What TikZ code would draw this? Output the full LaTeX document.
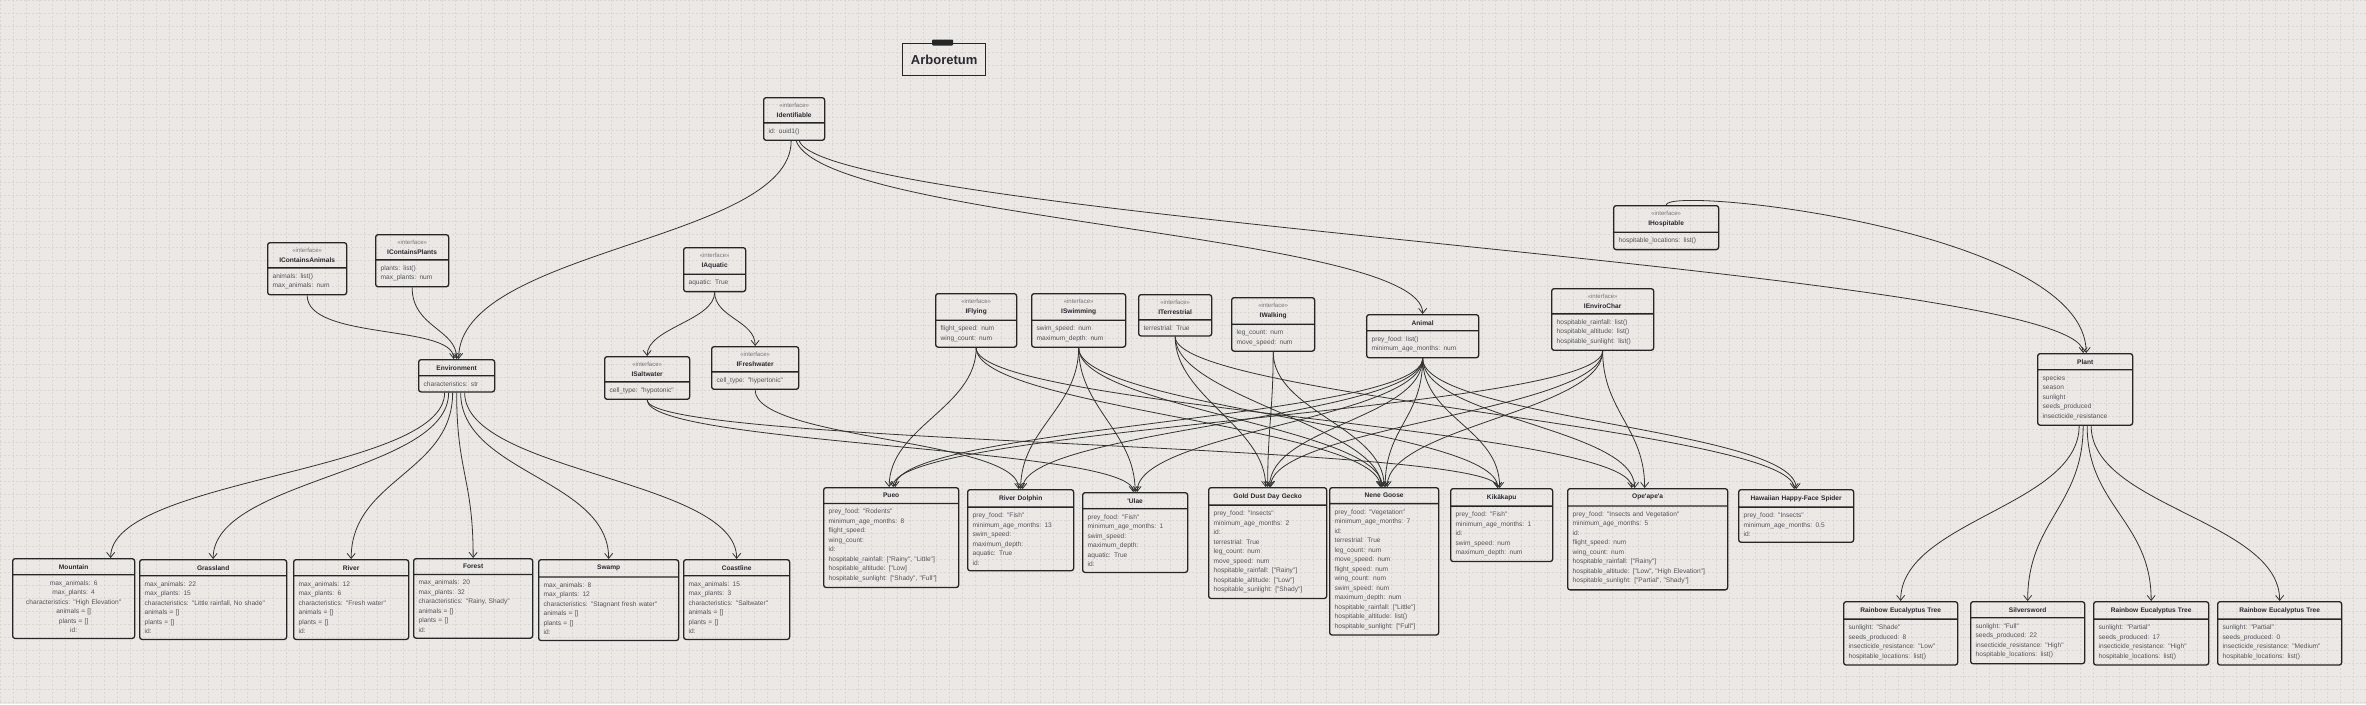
\documentclass[tikz,border=0pt]{standalone}
\usepackage{fontspec}
\newfontfamily\umlfont{Liberation Sans}
\usepackage{tikz}
\usetikzlibrary{arrows.meta,shapes.multipart}
\definecolor{paper}{HTML}{EBE8E5}
\definecolor{gridline}{HTML}{DAD6D2}
\definecolor{boxline}{HTML}{262626}
\definecolor{attrtext}{HTML}{55535A}
\definecolor{nametext}{HTML}{2A2830}
\definecolor{wire}{HTML}{333333}
\newcommand{\stype}{{\fontsize{6}{8.5}\selectfont\color{attrtext!80}«interface»}\\}
\newcommand{\cname}[1]{\textcolor{nametext}{\textbf{#1}}}
\newcommand{\lft}[1]{\raggedright\parfillskip=0pt plus 1fil\relax #1\par}

\begin{document}
\begin{tikzpicture}[x=1pt,y=-1pt,>={Straight Barb[length=5pt,width=8pt]},
    umlbox/.style={rectangle split,rectangle split parts=2,draw=boxline,line width=1.3pt,rounded corners=2.5pt,anchor=north west,inner xsep=5pt,inner ysep=5pt,align=center,text=attrtext,font=\umlfont\fontsize{6.6}{9.5}\selectfont},
    link/.style={->,draw=wire,line width=0.8pt}]

  \useasboundingbox (0,0) rectangle (2366,704);
  \fill[paper] (0,0) rectangle (2366,704);
  \foreach \gx in {0,13,...,2366} {
    \draw[gridline,line width=0.4pt,dash pattern=on 2pt off 2pt] (\gx,0) -- (\gx,704);
  }
  \foreach \gy in {0,13,...,704} {
    \draw[gridline,line width=0.4pt,dash pattern=on 2pt off 2pt] (0,\gy) -- (2366,\gy);
  }

  % title
  \node[draw=boxline,line width=1.4pt,minimum width=83,minimum height=32,anchor=north west,font=\umlfont\bfseries\fontsize{13}{15}\selectfont,text=nametext] (title) at (902,43) {Arboretum};
  \node[fill=boxline,minimum width=21,minimum height=6,inner sep=0pt,rounded corners=1pt] (tape) at (942.5,42.5) {};

  % interfaces and base classes
  \node[umlbox,text width=51,minimum height=50] (identifiable) at (763,97) {\stype\cname{Identifiable}\nodepart{two}\lft{id: uuid1()}};
  \node[umlbox,text width=69,minimum height=60] (cont-animals) at (267,242) {\stype\cname{IContainsAnimals}\nodepart{two}\lft{animals: list()\\max\_animals: num}};
  \node[umlbox,text width=63,minimum height=59] (cont-plants) at (375,234) {\stype\cname{IContainsPlants}\nodepart{two}\lft{plants: list()\\max\_plants: num}};
  \node[umlbox,text width=52,minimum height=51] (aquatic) at (683,247) {\stype\cname{IAquatic}\nodepart{two}\lft{aquatic: True}};
  \node[umlbox,text width=66,minimum height=42] (environment) at (418,359) {\cname{Environment}\nodepart{two}\lft{characteristics: str}};
  \node[umlbox,text width=75,minimum height=50] (saltwater) at (604,356) {\stype\cname{ISaltwater}\nodepart{two}\lft{cell\_type: "hypotonic"}};
  \node[umlbox,text width=77,minimum height=51] (freshwater) at (711,346) {\stype\cname{IFreshwater}\nodepart{two}\lft{cell\_type: "hypertonic"}};
  \node[umlbox,text width=71,minimum height=60] (flying) at (935,293) {\stype\cname{IFlying}\nodepart{two}\lft{flight\_speed: num\\wing\_count: num}};
  \node[umlbox,text width=84,minimum height=60] (swimming) at (1031,293) {\stype\cname{ISwimming}\nodepart{two}\lft{swim\_speed: num\\maximum\_depth: num}};
  \node[umlbox,text width=63,minimum height=51] (terrestrial) at (1138,294) {\stype\cname{ITerrestrial}\nodepart{two}\lft{terrestrial: True}};
  \node[umlbox,text width=73,minimum height=60] (walking) at (1231,297) {\stype\cname{IWalking}\nodepart{two}\lft{leg\_count: num\\move\_speed: num}};
  \node[umlbox,text width=102,minimum height=50] (animal) at (1366,314) {\cname{Animal}\nodepart{two}\lft{prey\_food: list()\\minimum\_age\_months: num}};
  \node[umlbox,text width=92,minimum height=70] (envirochar) at (1551,288) {\stype\cname{IEnviroChar}\nodepart{two}\lft{hospitable\_rainfall: list()\\hospitable\_altitude: list()\\hospitable\_sunlight: list()}};
  \node[umlbox,text width=95,minimum height=51] (hospitable) at (1613,205) {\stype\cname{IHospitable}\nodepart{two}\lft{hospitable\_locations: list()}};
  \node[umlbox,text width=85,minimum height=80] (plant) at (2037,353) {\cname{Plant}\nodepart{two}\lft{species\\season\\sunlight\\seeds\_produced\\insecticide\_resistance}};

  % environments
  \node[umlbox,text width=112,minimum height=90] (mountain) at (12,558) {\cname{Mountain}\nodepart{two}\centering max\_animals: 6\\max\_plants: 4\\characteristics: "High Elevation"\\animals = []\\plants = []\\id:};
  \node[umlbox,text width=137,minimum height=90] (grassland) at (139,559) {\cname{Grassland}\nodepart{two}\lft{max\_animals: 22\\max\_plants: 15\\characteristics: "Little rainfall, No shade"\\animals = []\\plants = []\\id:}};
  \node[umlbox,text width=105,minimum height=90] (river) at (293,559) {\cname{River}\nodepart{two}\lft{max\_animals: 12\\max\_plants: 6\\characteristics: "Fresh water"\\animals = []\\plants = []\\id:}};
  \node[umlbox,text width=109,minimum height=90] (forest) at (413,558) {\cname{Forest}\nodepart{two}\lft{max\_animals: 20\\max\_plants: 32\\characteristics: "Rainy, Shady"\\animals = []\\plants = []\\id:}};
  \node[umlbox,text width=130,minimum height=90] (swamp) at (538,559) {\cname{Swamp}\nodepart{two}\lft{max\_animals: 8\\max\_plants: 12\\characteristics: "Stagnant fresh water"\\animals = []\\plants = []\\id:}};
  \node[umlbox,text width=96,minimum height=90] (coastline) at (683,559) {\cname{Coastline}\nodepart{two}\lft{max\_animals: 15\\max\_plants: 3\\characteristics: "Saltwater"\\animals = []\\plants = []\\id:}};

  % animals
  \node[umlbox,text width=125,minimum height=110] (pueo) at (823,487) {\cname{Pueo}\nodepart{two}\lft{prey\_food: "Rodents"\\minimum\_age\_months: 8\\flight\_speed:\\wing\_count:\\id:\\hospitable\_rainfall: ["Rainy", "Little"]\\hospitable\_altitude: ["Low]\\hospitable\_sunlight: ["Shady", "Full"]}};
  \node[umlbox,text width=96,minimum height=89] (river-dolphin) at (967,489) {\cname{River Dolphin}\nodepart{two}\lft{prey\_food: "Fish"\\minimum\_age\_months: 13\\swim\_speed:\\maximum\_depth:\\aquatic: True\\id:}};
  \node[umlbox,text width=95,minimum height=87] (ulae) at (1082,492) {\cname{'Ulae}\nodepart{two}\lft{prey\_food: "Fish"\\minimum\_age\_months: 1\\swim\_speed:\\maximum\_depth:\\aquatic: True\\id:}};
  \node[umlbox,text width=108,minimum height=120] (gecko) at (1208,487) {\cname{Gold Dust Day Gecko}\nodepart{two}\lft{prey\_food: "Insects"\\minimum\_age\_months: 2\\id:\\terrestrial: True\\leg\_count: num\\move\_speed: num\\hospitable\_rainfall: ["Rainy"]\\hospitable\_altitude: ["Low"]\\hospitable\_sunlight: ["Shady"]}};
  \node[umlbox,text width=99,minimum height=158] (nene) at (1329,487) {\cname{Nene Goose}\nodepart{two}\lft{prey\_food: "Vegetation"\\minimum\_age\_months: 7\\id:\\terrestrial: True\\leg\_count: num\\move\_speed: num\\flight\_speed: num\\wing\_count: num\\swim\_speed: num\\maximum\_depth: num\\hospitable\_rainfall: ["Little"]\\hospitable\_altitude: list()\\hospitable\_sunlight: ["Full"]}};
  \node[umlbox,text width=92,minimum height=81] (kikakapu) at (1450,488) {\cname{Kikākapu}\nodepart{two}\lft{prey\_food: "Fish"\\minimum\_age\_months: 1\\id:\\swim\_speed: num\\maximum\_depth: num}};
  \node[umlbox,text width=150,minimum height=109] (opeapea) at (1567,488) {\cname{Ope'ape'a}\nodepart{two}\lft{prey\_food: "Insects and Vegetation"\\minimum\_age\_months: 5\\id:\\flight\_speed: num\\wing\_count: num\\hospitable\_rainfall: ["Rainy"]\\hospitable\_altitude: ["Low", "High Elevation"]\\hospitable\_sunlight: ["Partial", "Shady"]}};
  \node[umlbox,text width=105,minimum height=60] (spider) at (1738,489) {\cname{Hawaiian Happy-Face Spider}\nodepart{two}\lft{prey\_food: "Insects"\\minimum\_age\_months: 0.5\\id:}};

  % plants
  \node[umlbox,text width=104,minimum height=71] (ret-shade) at (1843,601) {\cname{Rainbow Eucalyptus Tree}\nodepart{two}\lft{sunlight: "Shade"\\seeds\_produced: 8\\insecticide\_resistance: "Low"\\hospitable\_locations: list()}};
  \node[umlbox,text width=104,minimum height=71] (silversword) at (1970,601) {\cname{Silversword}\nodepart{two}\lft{sunlight: "Full"\\seeds\_produced: 22\\insecticide\_resistance: "High"\\hospitable\_locations: list()}};
  \node[umlbox,text width=105,minimum height=71] (ret-partial) at (2093,601) {\cname{Rainbow Eucalyptus Tree}\nodepart{two}\lft{sunlight: "Partial"\\seeds\_produced: 17\\insecticide\_resistance: "High"\\hospitable\_locations: list()}};
  \node[umlbox,text width=114,minimum height=71] (ret-medium) at (2217,601) {\cname{Rainbow Eucalyptus Tree}\nodepart{two}\lft{sunlight: "Partial"\\seeds\_produced: 0\\insecticide\_resistance: "Medium"\\hospitable\_locations: list()}};

  % links into Environment
  \draw[link] (cont-animals.south) .. controls +(0,45) and +(0,-35) .. ([xshift=-3]environment.north);
  \draw[link] (cont-plants.south) .. controls +(0,40) and +(0,-30) .. (environment.north);
  \draw[link] ([xshift=-3]identifiable.south) .. controls +(0,100) and +(0,-110) .. ([xshift=2]environment.north);

  % links from Identifiable and IHospitable
  \draw[link] ([xshift=2]identifiable.south) .. controls +(30,80) and +(0,-80) .. (animal.north);
  \draw[link] ([xshift=5]identifiable.south) .. controls +(30,78) and +(0,-83) .. ([xshift=-2]plant.north);
  \draw[link] (hospitable.north) .. controls +(0,-20) and +(0,-123) .. ([xshift=1]plant.north);

  % IAquatic
  \draw[link] (aquatic.south) .. controls +(0,28) and +(0,-28) .. (saltwater.north);
  \draw[link] (aquatic.south) .. controls +(0,25) and +(0,-25) .. (freshwater.north);

  % Environment to each environment
  \foreach \t/\o/\s in {mountain/-12/37,grassland/-8/0,river/-4/0,forest/0/0,swamp/4/0,coastline/8/0}{
    \draw[link] ([xshift=\o]environment.south) .. controls +(0,80) and +(0,-80) .. ([xshift=\s]\t.north);
  }

  % interfaces to animals
  \foreach \f/\t/\s in {animal/pueo/4,animal/river-dolphin/2,animal/ulae/2,animal/gecko/2,animal/nene/1,animal/kikakapu/-2,animal/opeapea/-13,animal/spider/0,
      flying/pueo/-2,flying/nene/-4,flying/opeapea/-16,
      swimming/river-dolphin/0,swimming/ulae/0,swimming/nene/-2,swimming/kikakapu/-4,
      terrestrial/gecko/-2,terrestrial/nene/-3,terrestrial/spider/-2,
      walking/gecko/0,walking/nene/0,
      envirochar/pueo/2,envirochar/gecko/3,envirochar/nene/3,envirochar/opeapea/-3}{
    \draw[link] (\f.south) .. controls +(0,60) and +(0,-60) .. ([xshift=\s]\t.north);
  }
  \draw[link] (saltwater.south) .. controls +(0,45) and +(0,-45) .. ([xshift=-2]ulae.north);
  \draw[link] (saltwater.south) .. controls +(0,45) and +(0,-45) .. ([xshift=-4]kikakapu.north);
  \draw[link] (freshwater.south) .. controls +(0,50) and +(0,-50) .. ([xshift=-2]river-dolphin.north);

  % Plant to each plant
  \foreach \t/\o in {ret-shade/-6,silversword/-2,ret-partial/2,ret-medium/6}{
    \draw[link] ([xshift=\o]plant.south) .. controls +(0,80) and +(0,-80) .. (\t.north);
  }
\end{tikzpicture}
\end{document}
